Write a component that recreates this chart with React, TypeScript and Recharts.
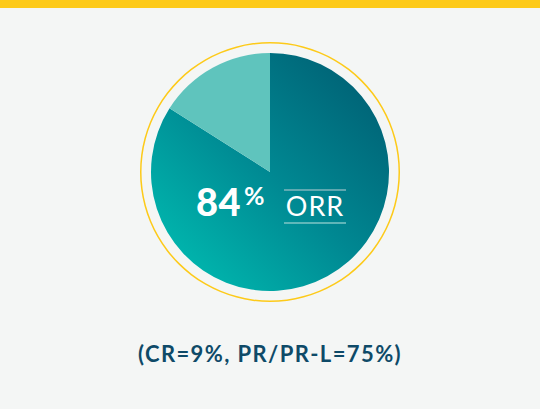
import { PieChart, Pie, Cell } from 'recharts';

const SLICE_NAMES = ['ORR', 'Other'];
const SLICE_VALUES = [84, 16];
const SLICE_FILLS = ['url(#orrGrad)', '#5fc4bd'];
const RING = [{ name: 'ring', value: 1 }];
const HEADLINE_VALUE = '84';
const HEADLINE_UNIT = '%';
const HEADLINE_LABEL = 'ORR';
const FOOTNOTE = '(CR=9%, PR/PR-L=75%)';

const data = SLICE_NAMES.map((name, i) => ({ name, value: SLICE_VALUES[i] }));

const CX = 270;
const CY = 172;

// text sits in an svg layered over the chart so the pie cannot cover it
const Overlay = () => (
  <svg
    width={540}
    height={409}
    style={{ position: 'absolute', left: 0, top: 0, pointerEvents: 'none' }}
  >
    <text
      x={CX - 74}
      y={CY + 44}
      fill="#ffffff"
      fontFamily="Lato, sans-serif"
      fontWeight={900}
      fontSize={38}
      letterSpacing={0.5}
    >
      {HEADLINE_VALUE}
      <tspan fontSize={25} fontWeight={700} dy={-11} dx={3}>{HEADLINE_UNIT}</tspan>
    </text>
    <line x1={CX + 14} x2={CX + 76} y1={CY + 18} y2={CY + 18} stroke="#7fb6bd" strokeWidth={1.5} />
    <line x1={CX + 14} x2={CX + 76} y1={CY + 51} y2={CY + 51} stroke="#7fc6c6" strokeWidth={1.5} />
    <text
      x={CX + 45}
      y={CY + 44}
      fill="#ffffff"
      textAnchor="middle"
      fontFamily="Lato, sans-serif"
      fontWeight={400}
      fontSize={27}
      letterSpacing={1}
    >
      {HEADLINE_LABEL}
    </text>
    <text
      x={CX}
      y={362}
      fill="#0e4a68"
      textAnchor="middle"
      fontFamily="Lato, sans-serif"
      fontWeight={700}
      fontSize={22}
      letterSpacing={1.4}
    >
      {FOOTNOTE}
    </text>
  </svg>
);

export default function App() {
  return (
    <div style={{ width: 540, height: 409, background: '#f4f6f5', position: 'relative' }}>
      <style>{'body{margin:0}'}</style>
      <div style={{ position: 'absolute', left: 0, top: 0, width: 540, height: 8, background: '#fdca19' }} />
      <PieChart width={540} height={409} margin={{ top: 0, right: 0, bottom: 0, left: 0 }}>
        <defs>
          <linearGradient id="orrGrad" x1="1" y1="0" x2="0" y2="1">
            <stop offset="0%" stopColor="#00586e" />
            <stop offset="50%" stopColor="#008892" />
            <stop offset="100%" stopColor="#00c4b6" />
          </linearGradient>
        </defs>
        <Pie
          data={RING}
          dataKey="value"
          cx={CX}
          cy={CY}
          innerRadius={128.5}
          outerRadius={130}
          stroke="none"
          fill="#fdca19"
          isAnimationActive={false}
        />
        <Pie
          data={data}
          dataKey="value"
          cx={CX}
          cy={CY}
          outerRadius={119}
          startAngle={90}
          endAngle={-270}
          stroke="none"
          isAnimationActive={false}
        >
          {data.map((d, i) => (
            <Cell key={d.name} fill={SLICE_FILLS[i]} />
          ))}
        </Pie>
      </PieChart>
      <Overlay />
    </div>
  );
}
